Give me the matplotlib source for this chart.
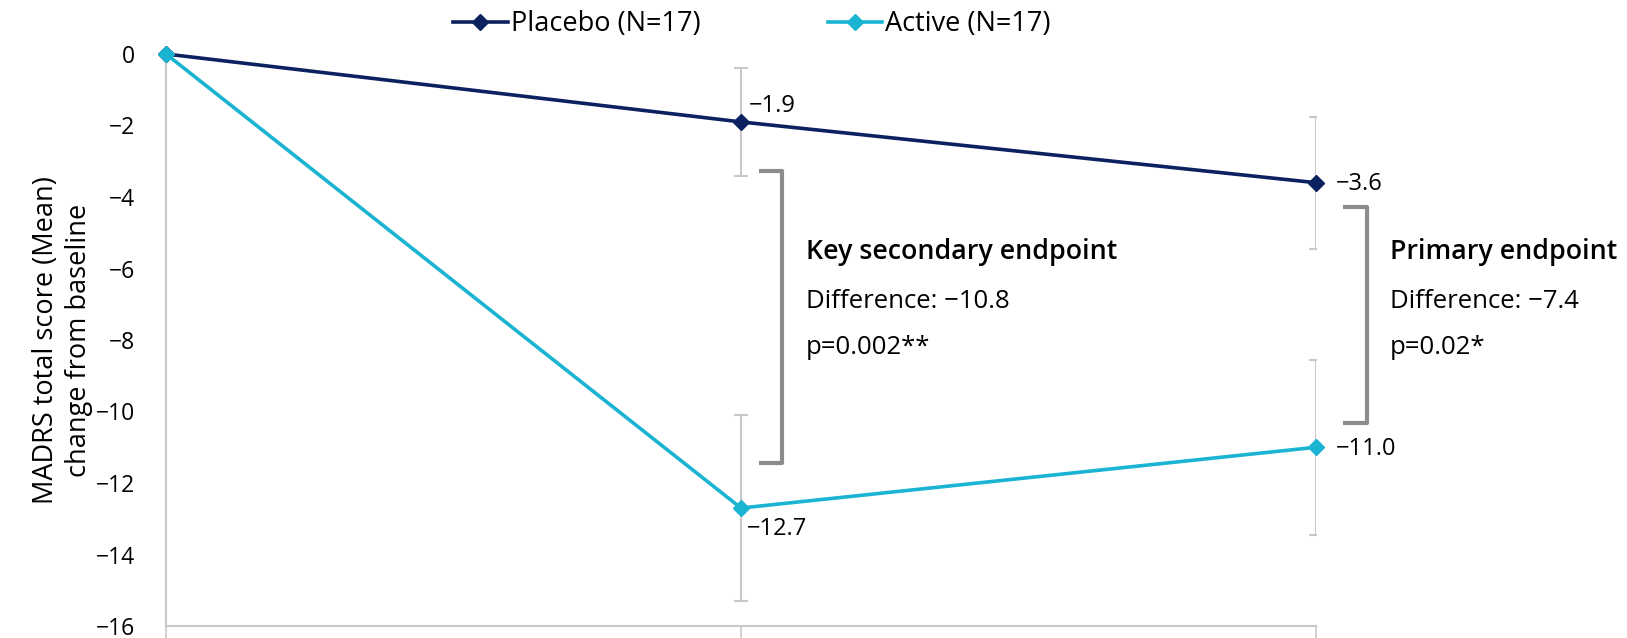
import matplotlib
matplotlib.use("Agg")
import matplotlib.pyplot as plt
import numpy as np

plt.rcParams['font.family'] = ['Open Sans', 'DejaVu Sans']

timepoints = [0, 1, 2]
placebo_mean = [0.0, -1.9, -3.6]
placebo_err = [0.0, 1.5, 1.85]
active_mean = [0.0, -12.7, -11.0]
active_err = [0.0, 2.6, 2.45]
placebo_labels = ["", "−1.9", "−3.6"]
active_labels = ["", "−12.7", "−11.0"]
yticks = [0, -2, -4, -6, -8, -10, -12, -14, -16]

navy = "#0B2160"
cyan = "#1AB4D2"
gray_err = "#C8C8C8"
bracket_col = "#8C8C8C"

fig = plt.figure(figsize=(16.27, 6.38), dpi=100)
ax = fig.add_axes([166/1627, 12/638, 1150/1627, 572/638])

ax.errorbar(timepoints[1:], placebo_mean[1:], yerr=placebo_err[1:], fmt='none',
            ecolor=gray_err, elinewidth=1.5, capsize=5, capthick=1.5, zorder=1)
ax.errorbar(timepoints[1:], active_mean[1:], yerr=active_err[1:], fmt='none',
            ecolor=gray_err, elinewidth=1.5, capsize=5, capthick=1.5, zorder=1)

ax.plot(timepoints, placebo_mean, color=navy, lw=2.6, marker='D', ms=8,
        label="Placebo (N=17)", clip_on=False, zorder=3)
ax.plot(timepoints, active_mean, color=cyan, lw=2.6, marker='D', ms=8,
        label="Active (N=17)", clip_on=False, zorder=3)

ax.set_xlim(0, 2)
ax.set_ylim(-16, 0)
ax.set_yticks(yticks)
ax.set_yticklabels([f"{v}".replace("-", "−") for v in yticks], fontsize=16.5)
ax.set_xticks(timepoints)
ax.set_xticklabels([])
ax.tick_params(axis='y', length=0, pad=22)
ax.tick_params(axis='x', length=14, color="#C8C8C8", width=1.2)
for s in ['top', 'right']:
    ax.spines[s].set_visible(False)
for s in ['left', 'bottom']:
    ax.spines[s].set_color("#C8C8C8")
    ax.spines[s].set_linewidth(1.5)

ax.set_ylabel("MADRS total score (Mean)\nchange from baseline", fontsize=19.5,
              linespacing=1.25, labelpad=2)

# data labels
lbl_fs = 17
ax.text(1.013, -1.45, placebo_labels[1], fontsize=lbl_fs, ha='left', va='center')
ax.text(2.035, -3.65, placebo_labels[2], fontsize=lbl_fs, ha='left', va='center', clip_on=False)
ax.text(1.01, -13.3, active_labels[1], fontsize=lbl_fs, ha='left', va='center')
ax.text(2.035, -11.05, active_labels[2], fontsize=lbl_fs, ha='left', va='center', clip_on=False)

# brackets
def bracket(x0, x1, ytop, ybot):
    ax.plot([x0, x1, x1, x0], [ytop, ytop, ybot, ybot], color=bracket_col, lw=3,
            solid_joinstyle='round', solid_capstyle='butt', clip_on=False, zorder=2)

bracket(1.031, 1.072, -3.27, -11.45)
bracket(2.047, 2.089, -4.27, -10.32)

title_fs = 19.3
body_fs = 18.5
ax.text(1.113, -5.55, "Key secondary endpoint", fontsize=title_fs, fontweight='semibold',
        ha='left', va='center', clip_on=False)
ax.text(1.113, -6.91, "Difference: −10.8", fontsize=body_fs, ha='left', va='center')
ax.text(1.113, -8.2, "p=0.002**", fontsize=body_fs, ha='left', va='center')

ax.text(2.129, -5.55, "Primary endpoint", fontsize=title_fs, fontweight='semibold',
        ha='left', va='center', clip_on=False)
ax.text(2.129, -6.91, "Difference: −7.4", fontsize=body_fs, ha='left', va='center', clip_on=False)
ax.text(2.129, -8.2, "p=0.02*", fontsize=body_fs, ha='left', va='center', clip_on=False)

leg = fig.legend(loc='center', bbox_to_anchor=(752/1627, 1 - 24/638), ncol=2, frameon=False,
                 fontsize=19.5, handlelength=2.0, handletextpad=0.12, columnspacing=4.7)

fig.savefig("out.png", dpi=100)
